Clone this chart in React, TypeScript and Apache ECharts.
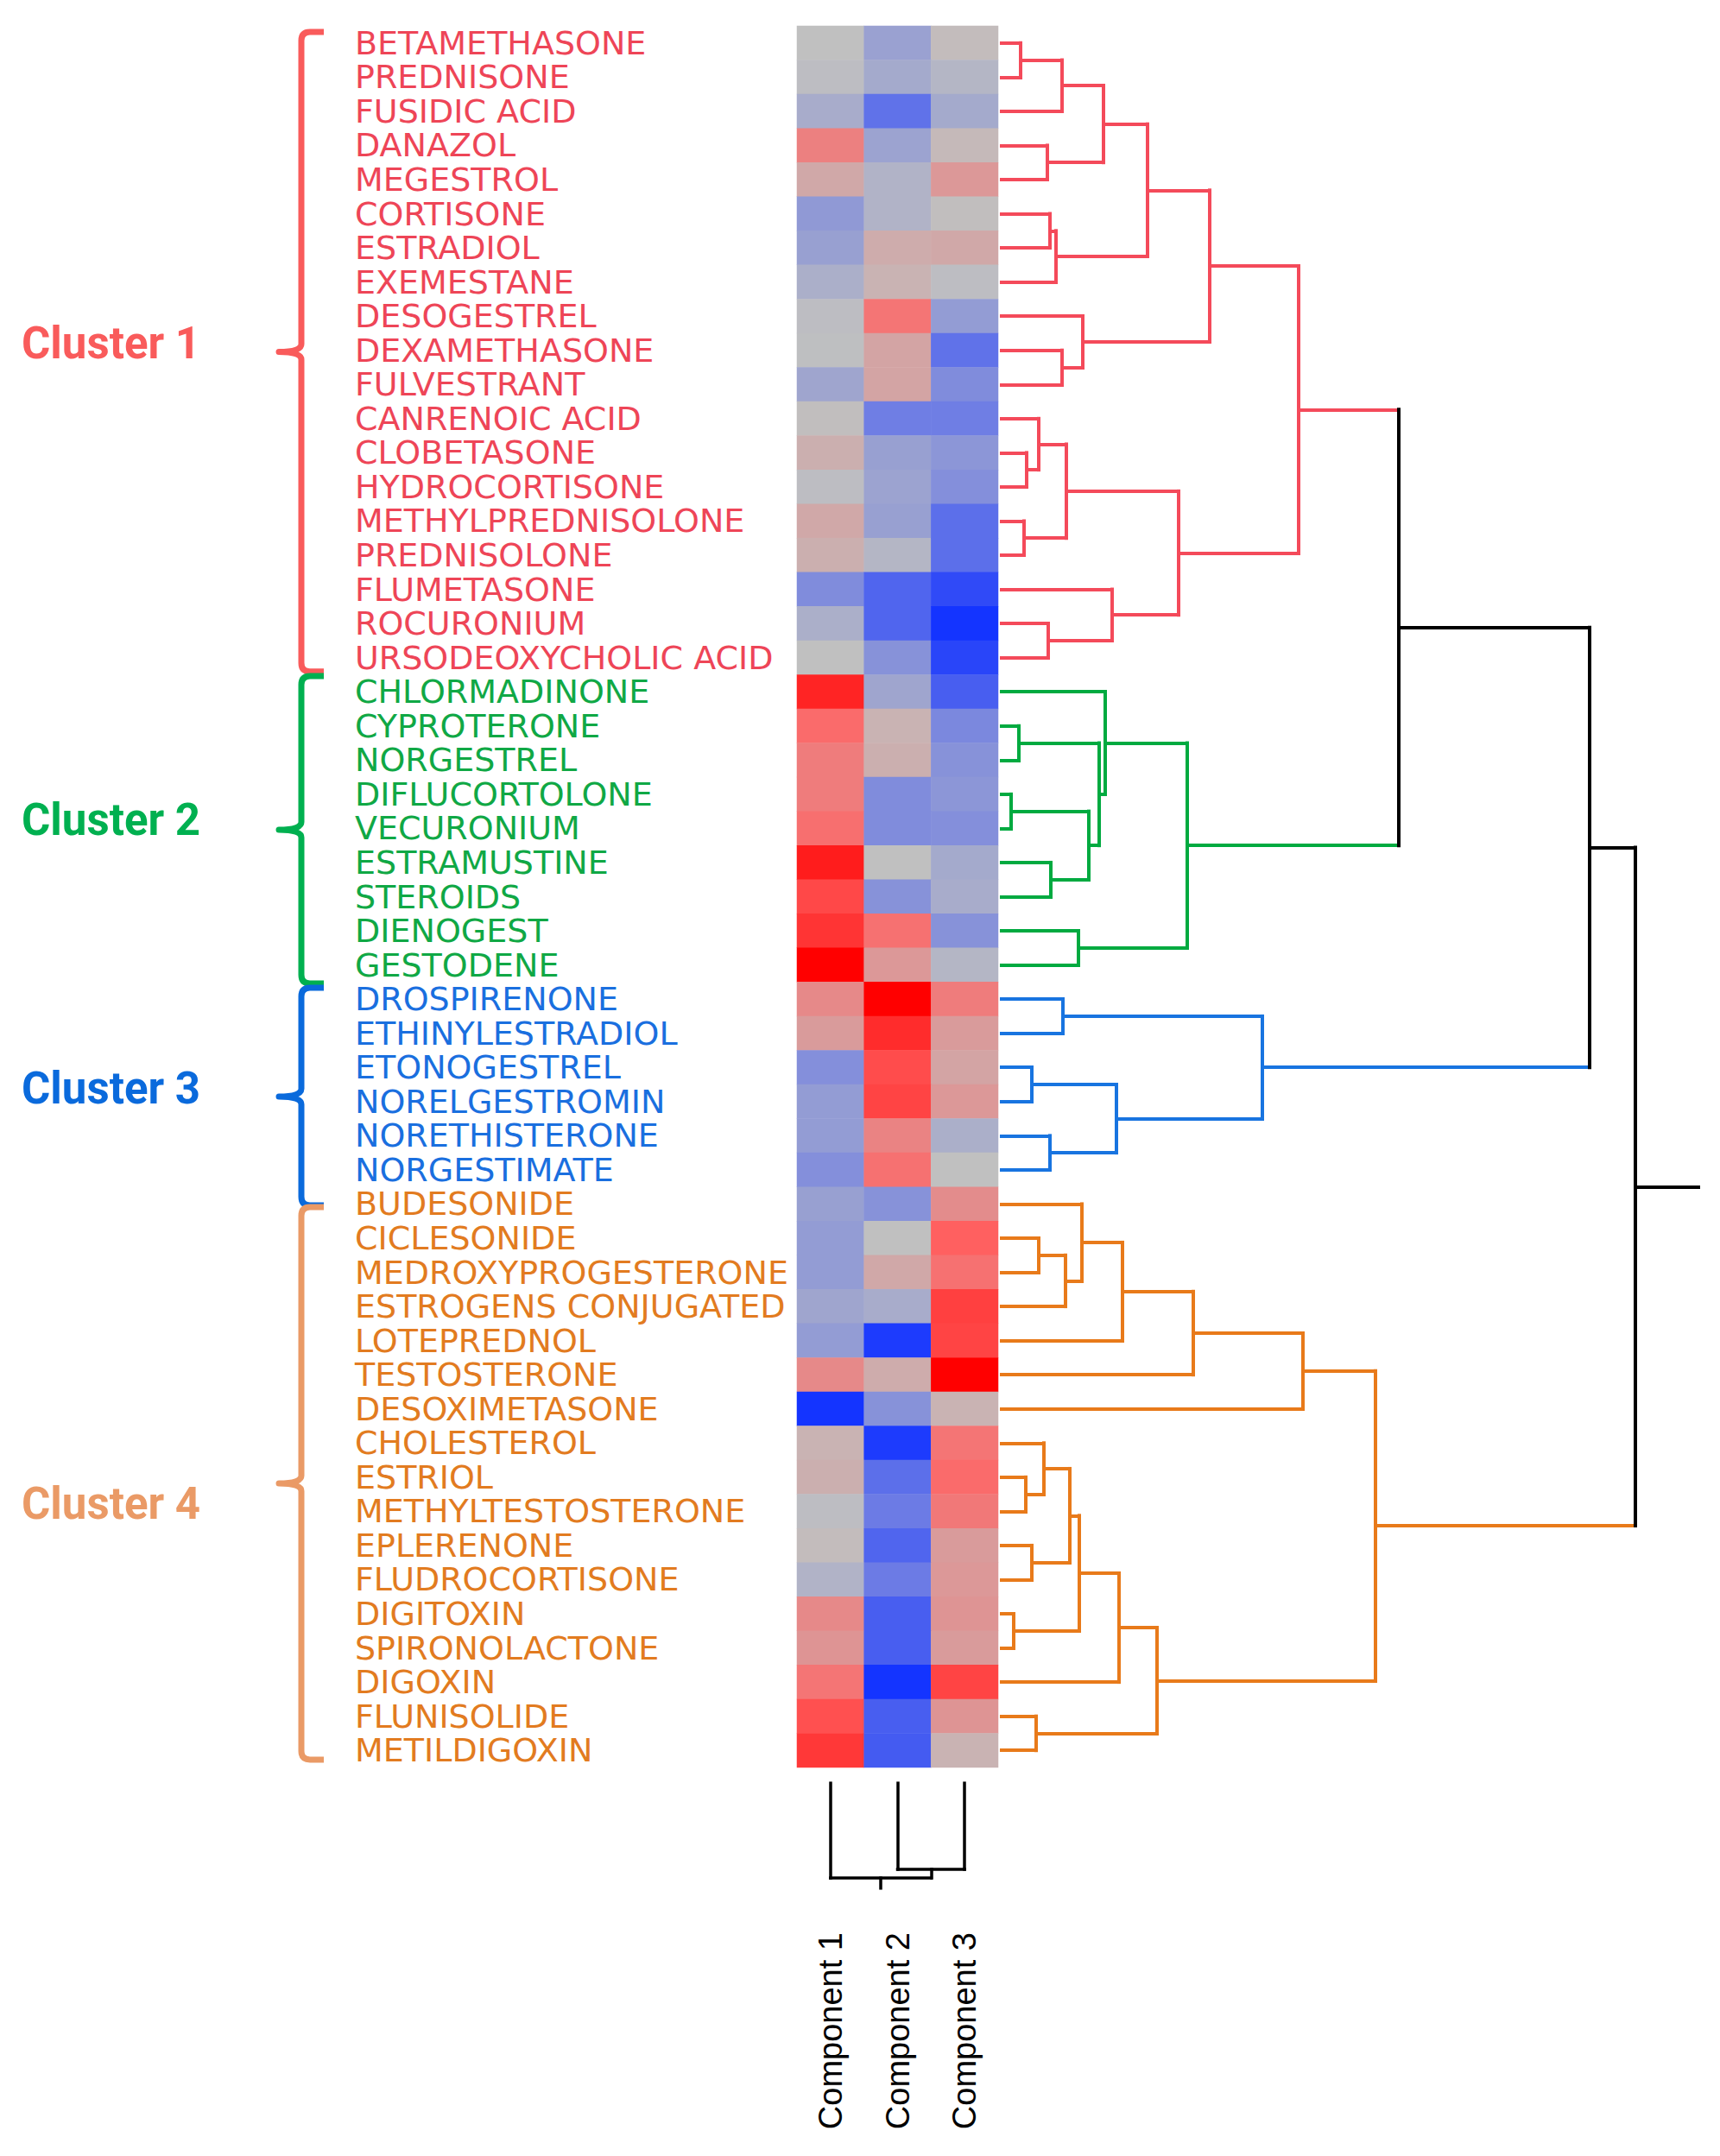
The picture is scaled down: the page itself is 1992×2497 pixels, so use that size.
import React, { useEffect, useRef } from "react";
import * as echarts from "echarts";

// ---------------- data ----------------
const drugs = [
  "BETAMETHASONE", "PREDNISONE", "FUSIDIC ACID", "DANAZOL", "MEGESTROL", "CORTISONE",
  "ESTRADIOL", "EXEMESTANE", "DESOGESTREL", "DEXAMETHASONE", "FULVESTRANT", "CANRENOIC ACID",
  "CLOBETASONE", "HYDROCORTISONE", "METHYLPREDNISOLONE", "PREDNISOLONE", "FLUMETASONE",
  "ROCURONIUM", "URSODEOXYCHOLIC ACID",
  "CHLORMADINONE", "CYPROTERONE", "NORGESTREL", "DIFLUCORTOLONE", "VECURONIUM",
  "ESTRAMUSTINE", "STEROIDS", "DIENOGEST", "GESTODENE",
  "DROSPIRENONE", "ETHINYLESTRADIOL", "ETONOGESTREL", "NORELGESTROMIN", "NORETHISTERONE",
  "NORGESTIMATE",
  "BUDESONIDE", "CICLESONIDE", "MEDROXYPROGESTERONE", "ESTROGENS CONJUGATED", "LOTEPREDNOL",
  "TESTOSTERONE", "DESOXIMETASONE", "CHOLESTEROL", "ESTRIOL", "METHYLTESTOSTERONE",
  "EPLERENONE", "FLUDROCORTISONE", "DIGITOXIN", "SPIRONOLACTONE", "DIGOXIN", "FLUNISOLIDE",
  "METILDIGOXIN",
];

const components = ["Component 1", "Component 2", "Component 3"];
const clusterNames = ["Cluster 1", "Cluster 2", "Cluster 3", "Cluster 4"];
const clusterSizes = [19, 9, 6, 17];

const comp1 = [
  0, -0.02, -0.14, 0.35, 0.13, -0.28, -0.23, -0.12, -0.02, -0.01,
  -0.19, 0.01, 0.09, -0.02, 0.13, 0.09, -0.37, -0.12, 0, 0.82,
  0.46, 0.37, 0.37, 0.44, 0.86, 0.64, 0.74, 1.0, 0.3, 0.2,
  -0.35, -0.26, -0.26, -0.35, -0.23, -0.26, -0.26, -0.19, -0.26, 0.3,
  -1.0, 0.07, 0.09, -0.02, 0.02, -0.09, 0.3, 0.24, 0.41, 0.6, 0.72,
];
const comp2 = [
  -0.22, -0.16, -0.56, -0.21, -0.09, -0.09, 0.11, 0.07, 0.41, 0.15,
  0.15, -0.47, -0.23, -0.21, -0.23, -0.07, -0.65, -0.65, -0.33, -0.19,
  0.07, 0.09, -0.37, -0.37, 0, -0.33, 0.43, 0.22, 1.0, 0.78,
  0.62, 0.66, 0.33, 0.43, -0.33, 0, 0.13, -0.14, -0.95, 0.11,
  -0.33, -0.95, -0.58, -0.49, -0.65, -0.49, -0.7, -0.7, -1.0, -0.7, -0.72,
];
const comp3 = [
  0.02, -0.07, -0.16, 0.04, 0.22, 0.01, 0.13, -0.02, -0.26, -0.56,
  -0.37, -0.47, -0.3, -0.35, -0.58, -0.58, -0.84, -1.0, -0.88, -0.7,
  -0.4, -0.33, -0.3, -0.35, -0.16, -0.14, -0.33, -0.07, 0.37, 0.2,
  0.15, 0.22, -0.12, 0, 0.28, 0.52, 0.43, 0.68, 0.66, 1.0,
  0.07, 0.41, 0.46, 0.39, 0.2, 0.22, 0.24, 0.2, 0.66, 0.24, 0.07,
];

// dendrogram trees: [left, right, merge height]; leaves are row indices
type Tree = number | [Tree, Tree, number];
const cluster1Tree: Tree = [
  [
    [[[[0, 1, 22], 2, 70], [3, 4, 53], 118], [[5, 6, 56], 7, 63], 169],
    [8, [9, 10, 70], 94],
    241,
  ],
  [
    [[11, [12, 13, 29], 43], [14, 15, 26], 75],
    [16, [17, 18, 54], 128],
    205,
  ],
  344,
];
const cluster2Tree: Tree = [
  [19, [[20, 21, 20], [[22, 23, 11], [24, 25, 57], 101], 113], 120],
  [26, 27, 89],
  215,
];
const cluster3Tree: Tree = [[28, 29, 71], [[30, 31, 35], [32, 33, 56], 133], 302];
const cluster4Tree: Tree = [
  [[[[34, [[35, 36, 43], 37, 74], 93], 38, 140], 39, 222], 40, 349],
  [[[[[41, [42, 43, 28], 49], [44, 45, 35], 79], [46, 47, 14], 90], 48, 136], [49, 50, 40], 180],
  433,
];
const clusterTrees = [cluster1Tree, cluster2Tree, cluster3Tree, cluster4Tree];
const topMergeHeights = [460, 681, 734];
const rootStubHeight = 807;

const columnTree: Tree = [0, [1, 2, 100], 110];
const columnRootStub = 122;

// ---------------- styles / layout ----------------
const labelColors = ["#F95B5B", "#00B050", "#0A6ADC", "#EA9A66"];
const itemColors = ["#EE4557", "#10A845", "#1A6FDF", "#E27B20"];
const dendroColors = ["#F44A5A", "#00AA40", "#1874E0", "#E87A1A"];
const bracketSpans: [number, number][] = [
  [-0.32, 18.41],
  [18.54, 27.54],
  [27.67, 34.04],
  [34.09, 50.27],
];
const labelRowOffsets = [-0.25, -0.28, -0.23, 0.6];

const clusterOfRow: number[] = [];
clusterSizes.forEach((n, k) => {
  for (let i = 0; i < n; i++) clusterOfRow.push(k);
});

interface Sub { pos: number; h: number; color: string }
interface Seg { a: [number, number]; b: [number, number]; color: string }

function joinSubs(A: Sub, B: Sub, h: number, color: string, segs: Seg[]): Sub {
  segs.push({ a: [A.h, A.pos], b: [h, A.pos], color: A.color });
  segs.push({ a: [B.h, B.pos], b: [h, B.pos], color: B.color });
  segs.push({ a: [h, A.pos], b: [h, B.pos], color });
  return { pos: (A.pos + B.pos) / 2, h, color };
}
function walk(t: Tree, color: string, segs: Seg[]): Sub {
  if (typeof t === "number") return { pos: t, h: 0, color };
  return joinSubs(walk(t[0], color, segs), walk(t[1], color, segs), t[2], color, segs);
}

function buildOption() {
  const heatData: number[][] = [];
  const cols = [comp1, comp2, comp3];
  drugs.forEach((_, r) => {
    cols.forEach((arr, c) => heatData.push([c, r, arr[r]]));
  });

  const rowSegs: Seg[] = [];
  const subs = clusterTrees.map((t, i) => walk(t, dendroColors[i], rowSegs));
  let acc = subs[0];
  for (let k = 1; k < subs.length; k++) {
    acc = joinSubs(acc, subs[k], topMergeHeights[k - 1], "#000000", rowSegs);
  }
  rowSegs.push({ a: [acc.h, acc.pos], b: [rootStubHeight, acc.pos], color: "#000000" });

  const colSegs: Seg[] = [];
  const cr = walk(columnTree, "#000000", colSegs);
  colSegs.push({ a: [cr.h, cr.pos], b: [columnRootStub, cr.pos], color: "#000000" });

  const rowLines = rowSegs.map((s) => ({
    coords: [[s.a[0], s.a[1]], [s.b[0], s.b[1]]],
    lineStyle: { color: s.color, width: 4, opacity: 1 },
  }));
  const colLines = colSegs.map((s) => ({
    coords: [[s.a[1], s.a[0]], [s.b[1], s.b[0]]],
    lineStyle: { color: s.color, width: 3.5, opacity: 1 },
  }));

  const hiddenValue = (gridIndex: number, min: number, max: number, inverse = false) => ({
    type: "value",
    gridIndex,
    min,
    max,
    inverse,
    show: false,
    splitLine: { show: false },
  });

  return {
    animation: false,
    backgroundColor: "#ffffff",
    grid: [
      { left: 923, top: 30, width: 233, height: 2017 },
      { left: 1160, top: 30, width: 807, height: 2017 },
      { left: 923, top: 2065, width: 233, height: 122 },
      { left: 0, top: 30, width: 923, height: 2017 },
    ],
    xAxis: [
      {
        type: "category",
        gridIndex: 0,
        data: components,
        position: "bottom",
        axisLine: { show: false },
        axisTick: { show: false },
        splitLine: { show: false },
        axisLabel: {
          rotate: 90,
          margin: 191,
          fontSize: 38,
          fontFamily: "Liberation Sans",
          color: "#000000",
          interval: 0,
        },
      },
      hiddenValue(1, 0, 807),
      hiddenValue(2, -0.5, 2.5),
      hiddenValue(3, 0, 923),
    ],
    yAxis: [
      {
        type: "category",
        gridIndex: 0,
        data: drugs,
        inverse: true,
        axisLine: { show: false },
        axisTick: { show: false },
        splitLine: { show: false },
        axisLabel: {
          interval: 0,
          align: "left",
          margin: 512,
          fontSize: 38,
          fontFamily: "DejaVu Sans",
          color: (_v: string, i: number) => itemColors[clusterOfRow[i]],
        },
      },
      hiddenValue(1, -0.5, 50.5, true),
      hiddenValue(2, 0, 122, true),
      hiddenValue(3, -0.5, 50.5, true),
    ],
    visualMap: {
      type: "continuous",
      show: false,
      min: -1,
      max: 1,
      dimension: 2,
      seriesIndex: 0,
      inRange: { color: ["#1434ff", "#6a7ae6", "#c0c0c0", "#ff6464", "#ff0000"] },
    },
    series: [
      {
        type: "heatmap",
        xAxisIndex: 0,
        yAxisIndex: 0,
        data: heatData,
        silent: true,
        itemStyle: { borderWidth: 0 },
        emphasis: { disabled: true },
        progressive: 0,
      },
      {
        type: "lines",
        coordinateSystem: "cartesian2d",
        xAxisIndex: 1,
        yAxisIndex: 1,
        silent: true,
        lineStyle: { width: 4, opacity: 1, cap: "square", curveness: 0 },
        data: rowLines,
        z: 3,
      },
      {
        type: "lines",
        coordinateSystem: "cartesian2d",
        xAxisIndex: 2,
        yAxisIndex: 2,
        silent: true,
        lineStyle: { width: 3.5, opacity: 1, cap: "square", curveness: 0 },
        data: colLines,
        z: 3,
      },
      {
        type: "custom",
        xAxisIndex: 3,
        yAxisIndex: 3,
        silent: true,
        data: clusterNames.map((_, i) => [i, i]),
        renderItem: (params: any, api: any) => {
          const i = params.dataIndex;
          const [r0, r1] = bracketSpans[i];
          const mid = (r0 + r1) / 2;
          const top = api.coord([0, r0])[1];
          const bot = api.coord([0, r1])[1];
          const m = api.coord([0, mid])[1];
          const xT = api.coord([375, 0])[0];
          const xv = api.coord([349, 0])[0];
          const xn = api.coord([323, 0])[0];
          const r = 10;
          const d =
            `M${xT},${top} L${xv + r},${top} Q${xv},${top} ${xv},${top + r} ` +
            `L${xv},${m - 9} Q${xv},${m} ${xn},${m} Q${xv},${m} ${xv},${m + 9} ` +
            `L${xv},${bot - r} Q${xv},${bot} ${xv + r},${bot} L${xT},${bot}`;
          const lp = api.coord([25, mid + labelRowOffsets[i]]);
          return {
            type: "group",
            children: [
              {
                type: "path",
                shape: { pathData: d },
                style: { stroke: labelColors[i], fill: "none", lineWidth: 7, lineJoin: "round" },
              },
              {
                type: "text",
                x: lp[0],
                y: lp[1],
                style: {
                  text: clusterNames[i],
                  fill: labelColors[i],
                  fontSize: 51,
                  fontWeight: "bold",
                  fontFamily: "Roboto",
                  align: "left",
                  verticalAlign: "middle",
                },
              },
            ],
          };
        },
      },
    ],
  };
}

export default function App() {
  const ref = useRef<HTMLDivElement>(null);
  useEffect(() => {
    document.body.style.margin = "0";
    const chart = echarts.init(ref.current as HTMLDivElement, undefined, { renderer: "svg" });
    chart.setOption(buildOption() as any);
    return () => chart.dispose();
  }, []);
  return <div ref={ref} style={{ width: 1992, height: 2497, background: "#ffffff" }} />;
}
